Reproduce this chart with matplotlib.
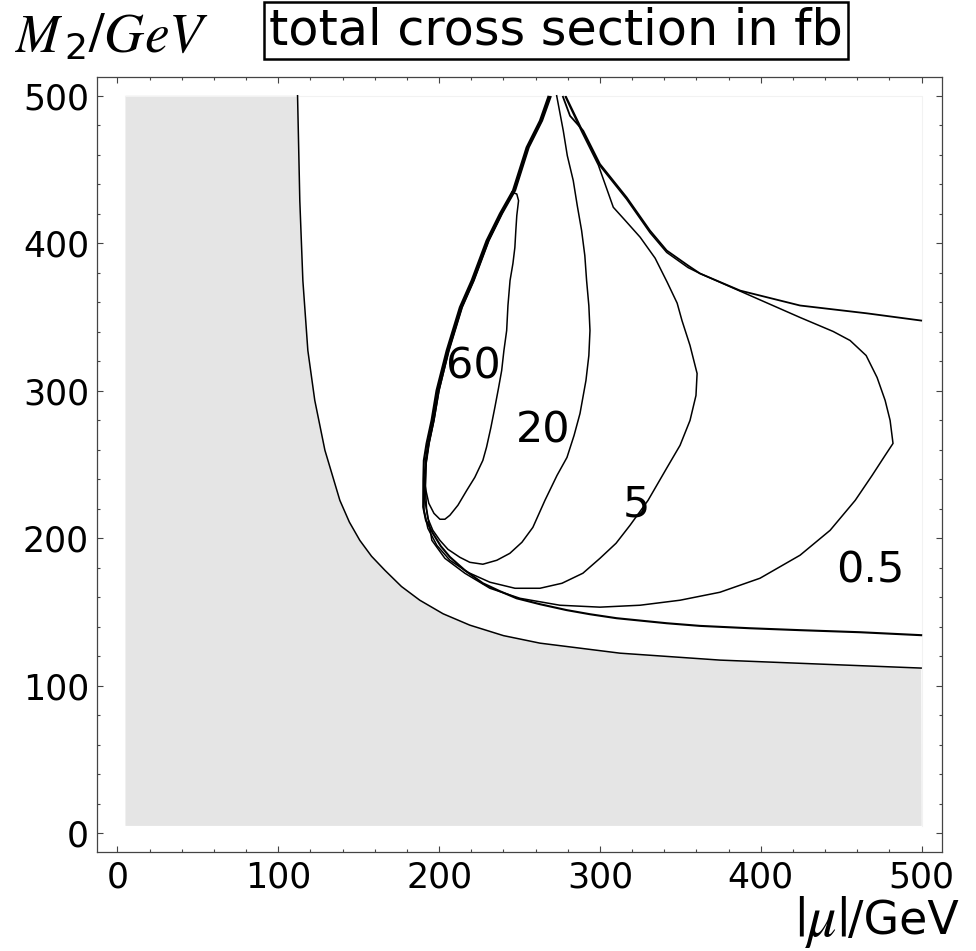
import matplotlib
matplotlib.use("Agg")
import matplotlib.pyplot as plt
import numpy as np

plt.rcParams['mathtext.fontset'] = 'stix'
SANS = ['DejaVu Sans']

# ---------------- data (GeV) ----------------
# boundary of the excluded (grey) region
bound_mu = [112, 113.4, 115.3, 118.4, 122.7, 129.0, 138.3, 144.2, 150.7, 158.0, 166.3, 176.6, 188.0, 202.5, 219.1, 240.0, 262.7, 312.5, 374.7, 436.9, 499.7]
bound_m2 = [500, 428.8, 374.7, 327.3, 293.5, 259.7, 225.7, 211.0, 198.6, 187.8, 178.3, 167.3, 158.0, 148.8, 141.1, 134.0, 128.9, 122.1, 117.4, 114.7, 112.0]

# kinematic threshold, left/lower branch
thr_lo_mu = [267.9, 262.7, 254.4, 245.9, 237.8, 229.5, 220.2, 212.9, 204.7, 198.4, 195.3, 192.2, 190.5, 190.2, 190.1, 191.8, 196.1, 201.1, 206.7, 216.0, 227.2, 237.8, 248.2, 262.7, 279.3, 293.8, 310.4, 341.5, 362.2, 393.3, 424.4, 461.7, 499.7]
thr_lo_m2 = [499.3, 483.1, 465.0, 435.7, 420.1, 401.8, 374.7, 356.6, 327.3, 300.2, 279.9, 264.3, 252.8, 239.3, 221.2, 212.2, 203.4, 194.6, 187.3, 178.3, 169.5, 164.1, 159.3, 155.3, 151.3, 148.5, 145.8, 142.4, 140.6, 139.0, 137.7, 136.3, 134.3]
# kinematic threshold, upper branch
thr_hi_mu = [277.0, 281.4, 289.6, 300.0, 316.6, 331.1, 341.5, 354.8, 362.2, 387.2, 424.4, 465.9, 499.7]
thr_hi_m2 = [499.3, 486.4, 476.3, 453.7, 431.1, 408.6, 395.1, 384.9, 379.5, 367.9, 357.8, 352.5, 347.6]

# contour sigma = 0.5 fb
c05_mu = [269.5, 264.2, 255.9, 247.4, 239.3, 231.0, 221.7, 214.4, 206.2, 199.9, 196.8, 193.7, 192.0, 191.5, 192.2, 195.5, 203.6, 216.0, 231.6, 250.3, 275.1, 300.0, 324.9, 349.8, 374.6, 399.5, 424.4, 443.1, 458.7, 469.2, 477.3, 482.2, 480.4, 477.3, 472.3, 465.5, 455.5, 445.0, 424.4, 393.3, 362.2, 354.8, 341.5, 331.1, 316.6, 300.0, 289.6, 279.0]
c05_m2 = [499.3, 483.1, 465.0, 435.7, 420.1, 401.8, 374.7, 356.6, 327.3, 300.2, 279.9, 264.3, 252.8, 235.0, 220.0, 198.6, 186.4, 176.3, 166.1, 159.3, 154.6, 153.3, 154.6, 158.0, 163.4, 172.9, 188.5, 205.4, 225.7, 242.6, 256.2, 264.3, 279.9, 293.5, 309.0, 323.9, 334.1, 340.2, 349.7, 364.6, 379.5, 383.5, 393.8, 407.2, 429.8, 452.5, 475.3, 499.3]

# contour sigma = 5 fb
c5_mu = [278.5, 288.5, 299.0, 308.3, 315.6, 325.0, 334.3, 341.8, 348.0, 351.0, 356.0, 360.4, 359.7, 356.0, 349.8, 341.8, 329.9, 318.7, 310.0, 300.0, 289.4, 276.4, 262.7, 247.2, 231.6, 217.9, 206.7, 198.6, 193.0, 190.5, 191.0, 191.5, 193.0, 196.0, 199.0, 205.3, 213.5, 220.8, 230.0, 238.4, 246.5, 255.0, 263.3, 268.6]
c5_m2 = [499.3, 476.0, 453.0, 424.4, 415.6, 404.1, 389.9, 373.6, 359.4, 347.6, 330.7, 311.7, 296.8, 279.9, 263.0, 248.1, 225.7, 208.8, 196.6, 186.4, 176.3, 169.5, 166.1, 166.1, 170.2, 176.9, 185.1, 195.2, 206.8, 219.0, 235.0, 252.8, 264.3, 279.9, 300.2, 327.3, 356.6, 374.7, 401.8, 420.1, 435.7, 465.0, 483.1, 499.3]

# contour sigma = 20 fb
c20_mu = [273.1, 277.2, 279.7, 283.4, 285.9, 288.6, 290.6, 291.7, 293.1, 293.8, 293.1, 291.3, 287.6, 283.9, 279.5, 273.3, 265.8, 258.3, 251.5, 244.0, 235.9, 227.2, 219.1, 212.9, 205.5, 200.5, 196.1, 193.0, 191.2, 191.5, 192.0, 193.5, 196.5, 199.5, 205.7, 213.9, 221.2, 230.5, 238.8, 246.9, 255.4, 263.7, 268.9]
c20_m2 = [500.0, 476.3, 459.4, 442.5, 425.5, 408.6, 391.6, 374.7, 357.7, 340.8, 323.9, 307.0, 284.6, 269.7, 254.8, 242.6, 225.7, 207.4, 197.3, 189.8, 185.1, 182.4, 183.7, 187.1, 192.5, 198.6, 205.4, 213.5, 225.7, 240.0, 252.8, 264.3, 279.9, 300.2, 327.3, 356.6, 374.7, 401.8, 420.1, 435.7, 465.0, 483.1, 499.3]

# contour sigma = 60 fb
c60_mu = [245.3, 248.3, 249.4, 248.3, 247.7, 247.1, 245.9, 244.1, 242.8, 242.0, 240.3, 238.9, 236.9, 234.7, 232.2, 229.5, 227.2, 222.2, 217.2, 211.7, 206.7, 203.6, 200.5, 196.8, 193.6, 191.8, 190.5, 192.3, 193.8, 196.8, 200.0, 206.0, 214.2, 221.5, 230.8, 239.0, 245.3]
c60_m2 = [434.5, 433.4, 428.9, 418.8, 408.6, 397.1, 386.3, 374.7, 357.8, 340.8, 327.3, 313.7, 301.6, 288.9, 275.1, 261.8, 252.8, 241.3, 232.5, 222.4, 215.6, 212.9, 212.9, 216.9, 223.7, 232.5, 242.6, 252.8, 264.3, 279.9, 300.2, 327.3, 356.6, 374.7, 401.8, 420.1, 434.5]

label_text = ['60', '20', '5', '0.5']
label_mu = [221.0, 264.5, 322.4, 468.0]
label_m2 = [316.3, 273.0, 223.0, 178.3]

xticks = [0, 100, 200, 300, 400, 500]
yticks = [0, 100, 200, 300, 400, 500]
domain = [5, 500]

# ---------------- figure ----------------
fig = plt.figure(figsize=(9.76, 9.51), dpi=100)
ax = fig.add_axes([0.0997, 0.1044, 0.8652, 0.8143])

# grey excluded region
gx = [domain[0], domain[0]] + bound_mu + [domain[1]]
gy = [domain[0], domain[1]] + bound_m2 + [domain[0]]
ax.fill(gx, gy, color='#e5e5e5', lw=0, zorder=1)
ax.plot([domain[0], domain[1], domain[1]], [domain[1], domain[1], domain[0]], color='#f2f2f2', lw=0.8, zorder=1)

lk = dict(color='black', lw=1.1, zorder=3, solid_joinstyle='round')
ax.plot(bound_mu, bound_m2, **lk)
ax.plot(thr_lo_mu, thr_lo_m2, color='black', lw=1.5, zorder=3)
ax.plot(thr_hi_mu, thr_hi_m2, color='black', lw=1.3, zorder=3)
ax.plot(c05_mu, c05_m2, **lk)
ax.plot(c5_mu, c5_m2, **lk)
ax.plot(c20_mu, c20_m2, **lk)
ax.plot(c60_mu, c60_m2, **lk)

for t, xm, ym in zip(label_text, label_mu, label_m2):
    ax.text(xm, ym, t, fontsize=31, family=SANS, ha='center', va='center', zorder=4)

ax.set_xlim(-12.5, 512.5)
ax.set_ylim(-12.5, 512.5)
ax.set_xticks(xticks)
ax.set_yticks(yticks)
ax.set_xticks(np.arange(0, 501, 20), minor=True)
ax.set_yticks(np.arange(0, 501, 20), minor=True)
ax.tick_params(which='both', direction='in', top=True, right=True, color='#444444', width=0.8)
ax.tick_params(which='major', length=4.5, labelsize=25, pad=6)
ax.tick_params(which='minor', length=2.5)
for lab in ax.get_xticklabels() + ax.get_yticklabels():
    lab.set_family(SANS)
for s in ax.spines.values():
    s.set_color('#444444')
    s.set_linewidth(0.9)

# y-axis title  M2/GeV  (built from pieces: italic M, upright 2, italic /GeV)
fig.text(0.0154, 0.9453, r'$M$', fontsize=38, ha='left', va='baseline')
fig.text(0.0655, 0.9380, '2', fontsize=26, family=SANS, ha='left', va='baseline')
fig.text(0.0900, 0.9453, r'$/GeV$', fontsize=40, ha='left', va='baseline')

fig.text(0.5697, 0.968, 'total cross section in fb', fontsize=35.5, family=SANS, ha='center', va='center',
         bbox=dict(boxstyle='square,pad=0.1', fc='white', ec='black', lw=1.8))
fig.text(0.982, 0.0305, '/GeV', fontsize=33, family=SANS, ha='right', va='center')
fig.text(0.868, 0.0305, r'$|\mu|$', fontsize=42, ha='right', va='center')

fig.savefig('out.png', dpi=100)
